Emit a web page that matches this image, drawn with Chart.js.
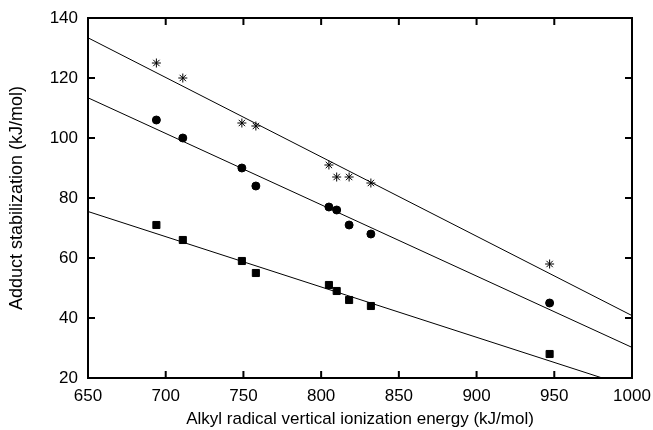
<!DOCTYPE html>
<html>
<head>
<meta charset="utf-8">
<script src="https://cdn.jsdelivr.net/npm/chart.js@4/dist/chart.umd.min.js"></script>
<style>
  html, body { margin: 0; padding: 0; background: #fff; }
  #wrap { width: 653px; height: 430px; }
</style>
</head>
<body>
<div id="wrap"><canvas id="c"></canvas></div>
<script>
// ionization energy (kJ/mol) of each alkyl radical
const energy = [694, 711, 749, 758, 805, 810, 818, 832, 947];

// adduct stabilization for the three series
const starVals   = [125, 120, 105, 104, 91, 87, 87, 85, 58];
const circleVals = [106, 100, 90, 84, 77, 76, 71, 68, 45];
const squareVals = [71, 66, 59, 55, 51, 49, 46, 44, 28];

// fitted lines, end points
const fitX = [650, 1000];
const starFit   = [133.4, 40.8];
const circleFit = [113.4, 30.2];
const squareFit = [75.5, 16.8];

const xTicks = [650, 700, 750, 800, 850, 900, 950, 1000];
const yTicks = [20, 40, 60, 80, 100, 120, 140];

const toPts = (xs, ys) => xs.map((x, i) => ({ x, y: ys[i] }));

const scatter = (vals, style, r) => ({
  type: 'scatter',
  data: toPts(energy, vals),
  pointStyle: style,
  pointRadius: r,
  borderColor: '#000',
  backgroundColor: '#000',
  borderWidth: 1,
  showLine: false
});

const fitLine = (vals) => ({
  type: 'line',
  data: toPts(fitX, vals),
  borderColor: '#000',
  borderWidth: 1,
  pointRadius: 0,
  fill: false,
  tension: 0
});

// frame plus ticks pointing into the plot on all four sides
const frameTicks = {
  id: 'frameTicks',
  afterDraw(chart) {
    const ctx = chart.ctx;
    const a = chart.chartArea;
    const sx = chart.scales.x, sy = chart.scales.y;
    const len = 7;
    ctx.save();
    ctx.strokeStyle = '#000';
    ctx.lineWidth = 2;
    ctx.strokeRect(a.left, a.top, a.right - a.left, a.bottom - a.top);
    ctx.beginPath();
    xTicks.forEach(v => {
      const px = sx.getPixelForValue(v);
      ctx.moveTo(px, a.bottom); ctx.lineTo(px, a.bottom - len);
      ctx.moveTo(px, a.top); ctx.lineTo(px, a.top + len);
    });
    yTicks.forEach(v => {
      const py = sy.getPixelForValue(v);
      ctx.moveTo(a.left, py); ctx.lineTo(a.left + len, py);
      ctx.moveTo(a.right, py); ctx.lineTo(a.right - len, py);
    });
    ctx.stroke();
    ctx.restore();
  }
};

const family = '"Liberation Sans", Arial, sans-serif';

new Chart(document.getElementById('c'), {
  data: {
    datasets: [
      fitLine(starFit),
      fitLine(circleFit),
      fitLine(squareFit),
      scatter(starVals, 'star', 4.5),
      scatter(circleVals, 'circle', 4),
      scatter(squareVals, 'rect', 5)
    ]
  },
  options: {
    responsive: true,
    maintainAspectRatio: false,
    animation: false,
    layout: { padding: { top: 18, right: 21, left: 0, bottom: 0 } },
    plugins: { legend: { display: false }, tooltip: { enabled: false } },
    scales: {
      x: {
        type: 'linear',
        min: 650, max: 1000,
        afterBuildTicks: s => { s.ticks = xTicks.map(v => ({ value: v })); },
        afterFit: s => { s.height = 52; s.paddingLeft = 0; s.paddingRight = 0; },
        grid: { display: false, drawTicks: false },
        border: { display: false },
        ticks: { color: '#000', font: { family, size: 17 }, padding: 8, maxRotation: 0, callback: v => String(v) },
        title: { display: true, text: 'Alkyl radical vertical ionization energy (kJ/mol)', color: '#000', font: { family, size: 17 }, padding: { top: 4, bottom: 0 } }
      },
      y: {
        type: 'linear',
        min: 20, max: 140,
        afterBuildTicks: s => { s.ticks = yTicks.map(v => ({ value: v })); },
        afterFit: s => { s.width = 88; s.paddingTop = 0; s.paddingBottom = 0; },
        grid: { display: false, drawTicks: false },
        border: { display: false },
        ticks: { color: '#000', font: { family, size: 17 }, padding: 10, callback: v => String(v) },
        title: { display: true, text: 'Adduct stabilization (kJ/mol)', color: '#000', font: { family, size: 18 }, padding: { top: 6, bottom: 4 } }
      }
    }
  },
  plugins: [frameTicks]
});
</script>
</body>
</html>
